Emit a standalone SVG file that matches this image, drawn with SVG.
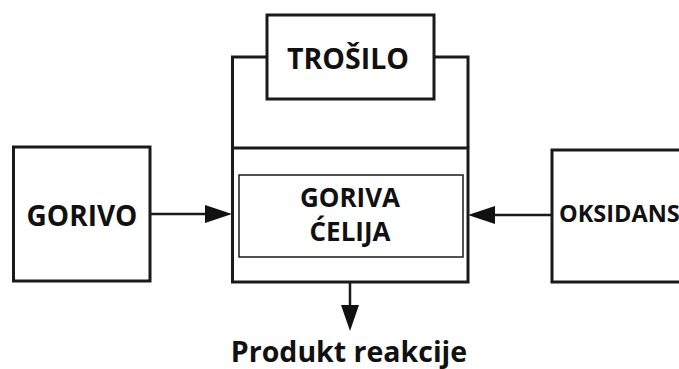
<svg xmlns="http://www.w3.org/2000/svg" width="679" height="369" viewBox="0 0 679 369">
<defs>
<style>
.box{fill:none;stroke:#1a1a1a;stroke-width:3}
.thin{fill:none;stroke:#1a1a1a;stroke-width:1.5}
.ln{fill:none;stroke:#1a1a1a;stroke-width:2.5}
.t{font-family:"Open Sans","Liberation Sans",sans-serif;font-weight:bold;fill:#111;text-anchor:middle}
</style>
</defs>
<rect width="679" height="369" fill="#fff"/>
<g id="connectors">
<polyline class="box" points="267,57 232.5,57 232.5,148"/>
<polyline class="box" points="434,57 468,57 468,148"/>
<line class="ln" x1="150" y1="214" x2="210" y2="214"/>
<polygon points="232,214 205,205 205,223" fill="#111"/>
<line class="ln" x1="552" y1="215" x2="490" y2="215"/>
<polygon points="468,215 495,206 495,224" fill="#111"/>
<line class="ln" x1="350" y1="282" x2="350" y2="310"/>
<polygon points="350,331 341,305 359,305" fill="#111"/>
</g>
<g id="trosilo">
<rect class="box" x="267" y="15" width="167" height="84"/>
<text class="t" x="348" y="69" font-size="28.5">TROŠILO</text>
</g>
<g id="gorivo">
<rect class="box" x="13.5" y="147" width="136.5" height="134"/>
<text class="t" x="82" y="226" font-size="28">GORIVO</text>
</g>
<g id="goriva-celija">
<rect class="box" x="232.5" y="148" width="235.5" height="134"/>
<rect class="thin" x="239" y="175" width="224" height="82"/>
<text class="t" x="350" y="207" font-size="26">GORIVA</text>
<text class="t" x="350" y="241" font-size="26">ĆELIJA</text>
</g>
<g id="oksidans">
<rect class="box" x="552" y="150" width="140" height="132"/>
<text class="t" x="559" y="222" font-size="23.5" style="text-anchor:start">OKSIDANS</text>
</g>
<g id="produkt">
<text class="t" x="349" y="362" font-size="28.5">Produkt reakcije</text>
</g>
</svg>
